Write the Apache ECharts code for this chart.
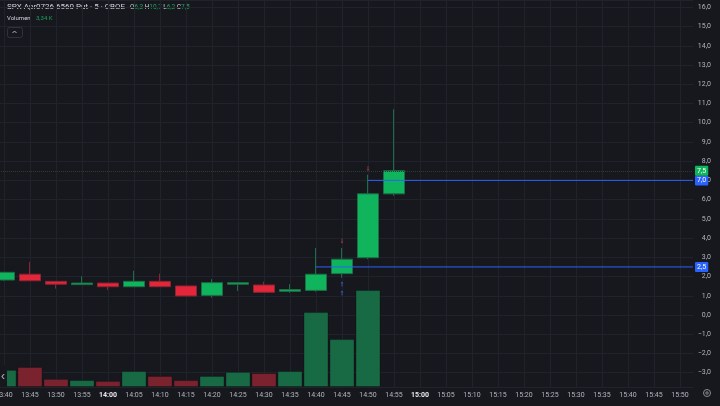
<!DOCTYPE html>
<html>
<head>
<meta charset="utf-8">
<script src="https://cdn.jsdelivr.net/npm/echarts@6/dist/echarts.min.js"></script>
<style>
  html, body { margin: 0; padding: 0; background: #17181e; }
  #chart { width: 720px; height: 406px; }
</style>
</head>
<body>
<div id="chart"></div>
<script>
// 5-minute bars, 13:40 .. 15:50
const times = [
  '13:40', '13:45', '13:50', '13:55', '14:00', '14:05', '14:10', '14:15', '14:20',
  '14:25', '14:30', '14:35', '14:40', '14:45', '14:50', '14:55', '15:00', '15:05',
  '15:10', '15:15', '15:20', '15:25', '15:30', '15:35', '15:40', '15:45', '15:50',
];
// open, close, low, high
const candles = [
  [1.82, 2.22, 1.78, 2.22],
  [2.12, 1.78, 1.78, 2.76],
  [1.75, 1.6, 1.37, 1.75],
  [1.58, 1.66, 1.58, 2.01],
  [1.66, 1.47, 1.3, 1.66],
  [1.47, 1.75, 1.47, 2.3],
  [1.75, 1.47, 1.47, 2.15],
  [1.51, 0.99, 0.99, 1.51],
  [1.02, 1.68, 0.9, 1.86],
  [1.6, 1.68, 1.25, 1.68],
  [1.56, 1.18, 1.18, 1.73],
  [1.23, 1.32, 1.16, 1.6],
  [1.28, 2.12, 1.21, 3.48],
  [2.15, 2.9, 1.94, 3.48],
  [2.98, 6.3, 2.9, 7.3],
  [6.3, 7.5, 6.2, 10.7],
];
// volume in thousands
const volumes = [0.59, 0.69, 0.28, 0.24, 0.21, 0.55, 0.38, 0.24, 0.38, 0.52, 0.48, 0.55, 2.58, 1.65, 3.34, null];
const lastPrice = 7.5;
const lastVolume = 3.34;
// horizontal order levels: start bar, price
const levelLines = [['14:50', 7.0], ['14:40', 2.5]];
// small execution arrows: bar, price, side
const tradeMarks = [['14:45', 3.85, 'sell'], ['14:45', 1.61, 'buy'], ['14:45', 1.14, 'buy'], ['14:50', 7.62, 'sell']];

const BG = '#17181e';
const GREEN = '#10b45c';
const RED = '#e3263a';
const BLUE = '#2962ff';
const fmt = (v) => v.toFixed(1).replace('.', ',').replace('-', '−');

const chart = echarts.init(document.getElementById('chart'));

const volumeData = volumes.map((v, i) => ({
  value: v,
  itemStyle: {
    color: candles[i][1] >= candles[i][0] ? '#176a43' : '#7a232f',
  },
}));

const axisBox = (bg) => ({
  backgroundColor: bg,
  color: '#ffffff',
  fontSize: 7,
  fontFamily: 'Roboto',
  padding: [2, 2, 1, 2],
  borderRadius: 1,
});

const levelSeries = levelLines.map(([t, v]) => ({
  type: 'line',
  xAxisIndex: 1,
  yAxisIndex: 0,
  data: [[times.indexOf(t), v], [times.length - 0.5, v]],
  symbol: 'none',
  silent: true,
  z: 4,
  lineStyle: { color: BLUE, width: 1 },
  endLabel: { show: true, formatter: fmt(v), distance: 2, ...axisBox(BLUE) },
}));

const arrowUp = 'path://M2,0 L4,2 L2.6,2 L2.6,6 L1.4,6 L1.4,2 L0,2 Z';
const arrowDown = 'path://M1.4,0 L2.6,0 L2.6,4 L4,4 L2,6 L0,4 L1.4,4 Z';

const option = {
  backgroundColor: BG,
  animation: false,
  textStyle: { fontFamily: 'Roboto' },
  grid: { left: -9, right: 27, top: 0, bottom: 19, outerBoundsMode: 'none', containLabel: false },
  xAxis: [
    {
      type: 'category',
      data: times,
      boundaryGap: true,
      axisLine: { show: false },
      axisTick: { show: false },
      axisLabel: {
        interval: 0,
        margin: 5,
        fontSize: 7,
        color: '#b2b5be',
        formatter: (t) => (t.endsWith(':00') ? `{b|${t}}` : t),
        rich: { b: { fontSize: 7, fontWeight: 'bold', color: '#e6e8ee' } },
      },
      splitLine: { show: true, alignWithLabel: true, lineStyle: { color: '#20232b', width: 1 } },
    },
    { type: 'value', min: -0.5, max: times.length - 0.5, show: false, gridIndex: 0 },
  ],
  yAxis: [
    {
      type: 'value',
      position: 'right',
      min: -3.744,
      max: 16.38,
      splitNumber: 20,
      axisLine: { show: false },
      axisTick: { show: false },
      axisLabel: {
        showMinLabel: false,
        showMaxLabel: false,
        align: 'right',
        margin: 18,
        fontSize: 7,
        color: '#b2b5be',
        formatter: fmt,
      },
      splitLine: { lineStyle: { color: '#20232b', width: 1 } },
    },
    { type: 'value', min: 0, max: 13.33, show: false, splitLine: { show: false } },
  ],
  series: [
    {
      name: 'Volumen',
      type: 'bar',
      yAxisIndex: 1,
      data: volumeData,
      barWidth: 25,
      z: 1,
      itemStyle: { borderColor: 'rgba(0,0,0,0.25)', borderWidth: 1 },
      markLine: {
        silent: true,
        symbol: 'none',
        data: [{ yAxis: lastVolume }],
        lineStyle: { opacity: 0 },
        label: {
          position: 'end',
          distance: 2,
          formatter: String(lastVolume).replace('.', ',') + 'K',
          ...axisBox(GREEN),
        },
      },
    },
    {
      name: 'SPX Apr0726 6560 Put',
      type: 'candlestick',
      data: candles,
      barWidth: 21,
      z: 3,
      itemStyle: {
        color: GREEN,
        color0: RED,
        borderColor: '#1b6f46',
        borderColor0: '#8a2532',
        borderWidth: 1,
      },
      markLine: {
        silent: true,
        symbol: 'none',
        data: [{ yAxis: lastPrice }],
        lineStyle: { color: '#2b3d33', type: 'dotted', width: 1 },
        label: { position: 'end', distance: 2, formatter: fmt(lastPrice), ...axisBox(GREEN) },
      },
    },
    ...levelSeries,
    {
      type: 'scatter',
      silent: true,
      z: 5,
      data: tradeMarks.map(([t, p, side]) => ({
        value: [t, p],
        symbol: side === 'buy' ? arrowUp : arrowDown,
        itemStyle: { color: side === 'buy' ? '#3a66d8' : '#b3394a' },
      })),
      symbolSize: [3, 5],
    },
  ],
  graphic: [
    {
      type: 'text',
      left: 7,
      top: 3,
      style: { text: 'SPX Apr0726 6560 Put · 5 · CBOE', fontSize: 8, fill: '#d1d4dc', fontFamily: 'Roboto' },
    },
    {
      type: 'text',
      left: 130,
      top: 4,
      style: {
        text: '{k|O}{v|6,3} {k|H}{v|10,7} {k|L}{v|6,2} {k|C}{v|7,5}',
        fontSize: 6.5,
        fontFamily: 'Roboto',
        rich: {
          k: { fontSize: 6.5, fill: '#d1d4dc', fontFamily: 'Roboto' },
          v: { fontSize: 6.5, fill: '#1fa25f', fontFamily: 'Roboto' },
        },
      },
    },
    {
      type: 'text',
      left: 7,
      top: 15,
      style: { text: 'Volumen', fontSize: 6, fill: '#d1d4dc', fontFamily: 'Roboto' },
    },
    {
      type: 'text',
      left: 36,
      top: 15,
      style: { text: '3,34 K', fontSize: 6, fill: '#1fa25f', fontFamily: 'Roboto' },
    },
    {
      type: 'rect',
      left: 7,
      top: 27,
      shape: { width: 15, height: 10, r: 2 },
      style: { fill: 'transparent', stroke: '#30333c', lineWidth: 1 },
    },
    {
      type: 'polyline',
      shape: { points: [[12.5, 33], [14.5, 31], [16.5, 33]] },
      style: { fill: 'none', stroke: '#b2b5be', lineWidth: 1 },
    },
    {
      type: 'rect',
      shape: { x: 0, y: 365, width: 7, height: 22 },
      style: { fill: BG },
      z: 10,
    },
    {
      type: 'text',
      left: 1,
      top: 371,
      z: 11,
      style: { text: '‹', fontSize: 12, fill: '#b2b5be' },
    },
    {
      type: 'circle',
      shape: { cx: 707, cy: 393, r: 3.5 },
      style: { fill: 'none', stroke: '#8a8d96', lineWidth: 1 },
    },
    {
      type: 'circle',
      shape: { cx: 707, cy: 393, r: 1.2 },
      style: { fill: 'none', stroke: '#8a8d96', lineWidth: 1 },
    },
  ],
};

chart.setOption(option);
</script>
</body>
</html>
